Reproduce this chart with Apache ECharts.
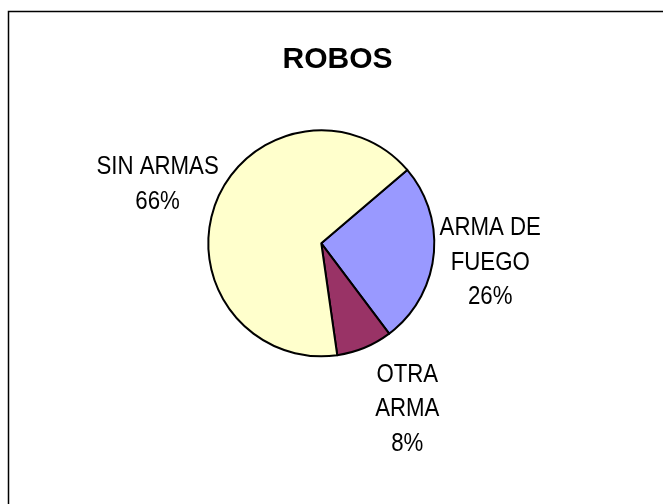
<!DOCTYPE html>
<html>
<head>
<meta charset="utf-8">
<script src="https://cdn.jsdelivr.net/npm/echarts@6/dist/echarts.min.js"></script>
<style>
  html, body { margin: 0; padding: 0; background: #fff; }
  #chart { width: 663px; height: 504px; }
</style>
</head>
<body>
<div id="chart"></div>
<script>
// Robbery breakdown by weapon type (percent of total)
const categories = ['ARMA DE\nFUEGO', 'OTRA\nARMA', 'SIN ARMAS'];
const values = [26, 8, 66];
const sliceColors = ['#9999FF', '#993366', '#FFFFCC'];
const chartTitle = 'ROBOS';

const labelFont = "'Liberation Sans Narrow', 'Arial Narrow', 'Liberation Sans', Arial, sans-serif";
const center = [321.3, 243.3];
const startAngle = 40.5;
// horizontal squeeze that gives the labels a narrow, condensed look
const labelSqueeze = 0.855;

// Label offsets tweak individual label placement around the pie
const labelOffsets = [[-5, 0], [19, 4], [0, 3]];

const sliceData = categories.map((name, i) => ({
  name: name,
  value: values[i],
  itemStyle: { color: sliceColors[i] }
}));

const labelData = categories.map((name, i) => ({
  name: name,
  value: values[i],
  label: { offset: labelOffsets[i] }
}));

const chart = echarts.init(document.getElementById('chart'), null, { renderer: 'canvas' });

chart.setOption({
  backgroundColor: '#ffffff',
  animation: false,
  title: {
    text: chartTitle,
    left: 337.5,
    top: 45,
    textAlign: 'center',
    padding: 0,
    textStyle: {
      fontFamily: "'Liberation Sans', Arial, sans-serif",
      fontWeight: 'bold',
      fontSize: 30,
      color: '#000'
    }
  },
  graphic: [{
    type: 'rect',
    shape: { x: 8.5, y: 11.5, width: 700, height: 600 },
    style: { fill: 'none', stroke: '#000', lineWidth: 1.5 },
    silent: true,
    z: 0
  }],
  series: [
    {
      type: 'pie',
      center: center,
      radius: 113,
      startAngle: startAngle,
      clockwise: true,
      avoidLabelOverlap: false,
      silent: true,
      itemStyle: { borderColor: '#000', borderWidth: 2 },
      label: { show: false },
      labelLine: { show: false },
      data: sliceData
    },
    {
      // transparent ring that carries the category labels around the pie
      type: 'pie',
      center: center,
      radius: [160, 184],
      startAngle: startAngle,
      clockwise: true,
      avoidLabelOverlap: false,
      silent: true,
      itemStyle: { color: 'rgba(0,0,0,0)', borderWidth: 0 },
      label: {
        show: true,
        position: 'inside',
        rotate: 0,
        color: '#000',
        fontFamily: labelFont,
        fontSize: 26,
        lineHeight: 34.5,
        align: 'center',
        formatter: p => p.name + '\n' + Math.round(p.percent) + '%'
      },
      labelLine: { show: false },
      data: labelData
    }
  ]
});

// Squeeze the slice labels horizontally around their own anchor point
(function squeezeLabels() {
  const zr = chart.getZr();
  function walk(el) {
    if (el.getTextContent) {
      const t = el.getTextContent();
      if (t && t.style && /%/.test(String(t.style.text || ''))) {
        t.scaleX = labelSqueeze;
        t.originX = 0;
        t.originY = 0;
        t.markRedraw();
      }
    }
    if (el.isGroup) el.eachChild(walk);
  }
  zr.storage.getRoots().forEach(walk);
  zr.refreshImmediately();
})();
</script>
</body>
</html>
